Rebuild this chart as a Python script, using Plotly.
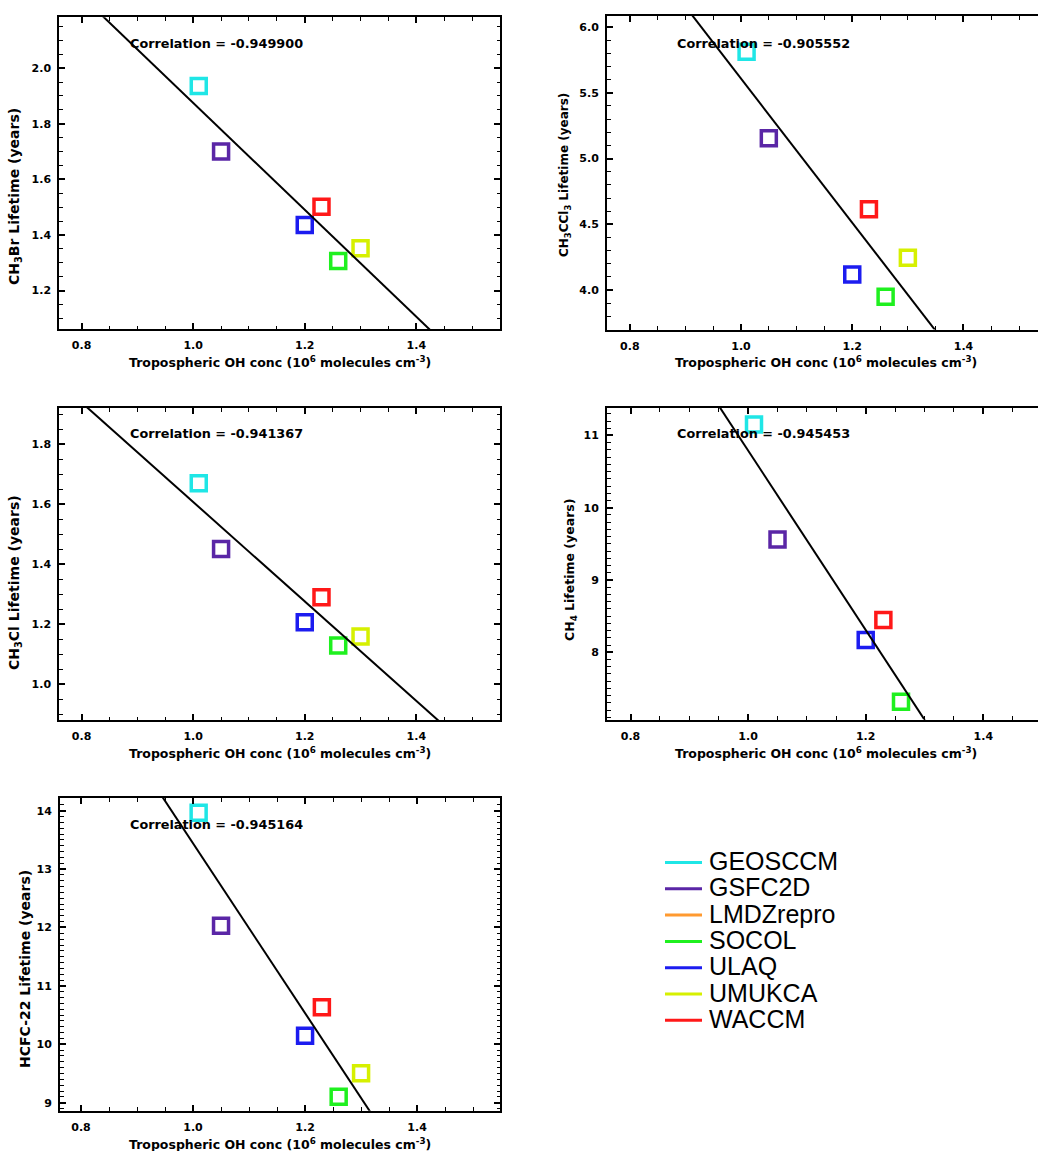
import numpy as np
import plotly.graph_objects as go

# ---------------- data ----------------
models = ["GEOSCCM", "GSFC2D", "LMDZrepro", "SOCOL", "ULAQ", "UMUKCA", "WACCM"]
model_colors = ["#1fe6e6", "#5a26a6", "#ff9a30", "#1ff01f", "#1c1cf0", "#d6f000", "#ff1818"]

# tropospheric OH concentration (10^6 molecules cm^-3); None = not available
oh_conc = [1.01, 1.05, None, 1.26, 1.20, 1.30, 1.23]

# lifetimes (years), same model order
ch3br_lifetime = [1.936, 1.70, None, 1.307, 1.436, 1.352, 1.502]
ch3ccl3_lifetime = [5.812, 5.154, None, 3.949, 4.119, 4.246, 4.614]
ch3cl_lifetime = [1.669, 1.45, None, 1.128, 1.206, 1.158, 1.289]
ch4_lifetime = [11.15, 9.562, None, 7.317, 8.17, None, 8.447]
hcfc22_lifetime = [13.966, 12.03, None, 9.103, 10.147, 9.503, 10.634]

y_titles = [
    "CH<sub>3</sub>Br Lifetime (years)",
    "CH<sub>3</sub>CCl<sub>3</sub> Lifetime (years)",
    "CH<sub>3</sub>Cl Lifetime (years)",
    "CH<sub>4</sub> Lifetime (years)",
    "HCFC-22 Lifetime (years)",
]
correlation_labels = ["-0.949900", "-0.905552", "-0.941367", "-0.945453", "-0.945164"]
x_title = "Tropospheric OH conc (10<sup>6</sup> molecules cm<sup>-3</sup>)"

species_values = [ch3br_lifetime, ch3ccl3_lifetime, ch3cl_lifetime, ch4_lifetime, hcfc22_lifetime]

# ---------------- layout geometry (pixels) ----------------
W, H = 1038, 1151


def px(x):
    return x / W


def py(y):
    return 1 - y / H


# plot boxes: left, right, top, bottom
boxes = [
    (59.3, 500, 17.3, 329),
    (607, 1038, 16, 329.5),
    (59.3, 500, 408, 720),
    (607, 1038, 408, 719.5),
    (60, 500, 798, 1110.7),
]
x_ranges = [[0.76, 1.55], [0.759, 1.534], [0.76, 1.55], [0.760, 1.493], [0.7625, 1.548]]
y_ranges = [[1.062, 2.183], [3.70, 6.084], [0.88, 1.92], [7.07, 11.38], [8.863, 14.217]]
y_dticks = [0.2, 0.5, 0.2, 1, 1]
y_minor = [0.05, 0.1, 0.05, 0.1, 0.1]
y_formats = [".1f", ".1f", ".1f", "d", "d"]
y_title_pos = [(15, 197), (565, 175), (15, 583), (570, 570), (25, 969)]
y_title_sizes = [14, 12, 14, 12.5, 14]
x_title_pos = [(280, 362), (826, 362), (280, 753), (826, 753), (280, 1144)]
corr_pos = [(128, 43), (675, 43), (128, 433), (675, 433), (128, 824)]
right_column = [False, True, False, True, False]

FONT = "DejaVu Sans"

fig = go.Figure()
layout = dict(
    width=W, height=H, autosize=False,
    margin=dict(l=0, r=0, t=0, b=0),
    paper_bgcolor="white", plot_bgcolor="white",
    showlegend=False,
    font=dict(family=FONT, color="black", size=12),
)
annotations = []
shapes = []

for i, vals in enumerate(species_values):
    n = i + 1
    xa = "x" if n == 1 else f"x{n}"
    ya = "y" if n == 1 else f"y{n}"
    xkey = "xaxis" if n == 1 else f"xaxis{n}"
    ykey = "yaxis" if n == 1 else f"yaxis{n}"
    l, r, t, b = boxes[i]

    # model points
    for name, col, xv, yv in zip(models, model_colors, oh_conc, vals):
        if xv is None or yv is None:
            continue
        fig.add_trace(go.Scatter(
            x=[xv], y=[yv], mode="markers", name=name,
            marker=dict(symbol="square-open", size=15, color=col,
                        line=dict(width=3.5, color=col)),
            xaxis=xa, yaxis=ya, cliponaxis=False,
        ))

    # least-squares regression line across the axis range
    pts = [(xv, yv) for xv, yv in zip(oh_conc, vals) if xv is not None and yv is not None]
    xs = np.array([p[0] for p in pts])
    ys = np.array([p[1] for p in pts])
    slope, intercept = np.polyfit(xs, ys, 1)
    xl = np.array(x_ranges[i])
    fig.add_trace(go.Scatter(
        x=xl, y=slope * xl + intercept, mode="lines",
        line=dict(color="black", width=2), xaxis=xa, yaxis=ya,
        hoverinfo="skip",
    ))

    common = dict(
        showline=True, linecolor="black", linewidth=2,
        ticks="inside", ticklen=6, tickwidth=1.5, tickcolor="black",
        showgrid=False, zeroline=False,
        tickfont=dict(family=FONT, size=11, color="black", weight="bold"),
    )
    layout[xkey] = dict(
        common, domain=[px(l), px(r)], range=x_ranges[i],
        anchor=ya, dtick=0.2, tick0=0.8, tickformat=".1f",
        mirror="allticks", ticklabelstandoff=5,
        minor=dict(ticks="inside", ticklen=3.5, dtick=0.05, tick0=0.8,
                   tickcolor="black", tickwidth=1.2),
    )
    layout[ykey] = dict(
        common, domain=[py(b), py(t)], range=y_ranges[i],
        anchor=xa, dtick=y_dticks[i], tickformat=y_formats[i],
        mirror=False if right_column[i] else "allticks",
        ticklabelstandoff=4,
        minor=dict(ticks="inside", ticklen=3.5, dtick=y_minor[i],
                   tickcolor="black", tickwidth=1.2),
    )

    tx, ty = y_title_pos[i]
    annotations.append(dict(
        x=px(tx), y=py(ty), xref="paper", yref="paper", text=y_titles[i],
        textangle=-90, showarrow=False,
        font=dict(family=FONT, size=y_title_sizes[i], weight="bold"),
        xanchor="center", yanchor="middle",
    ))
    tx, ty = x_title_pos[i]
    annotations.append(dict(
        x=px(tx), y=py(ty), xref="paper", yref="paper", text=x_title,
        showarrow=False, font=dict(family=FONT, size=12.5, weight="bold"),
        xanchor="center", yanchor="middle",
    ))
    cx, cy = corr_pos[i]
    annotations.append(dict(
        x=px(cx), y=py(cy), xref="paper", yref="paper",
        text="Correlation = " + correlation_labels[i],
        showarrow=False, font=dict(family=FONT, size=12.8, weight="bold"),
        xanchor="left", yanchor="middle",
    ))

# model key
key_line_x = (665, 702)
key_text_x = 707
key_y0, key_dy = 861, 26.3
for j, (name, col) in enumerate(zip(models, model_colors)):
    yy = key_y0 + j * key_dy
    shapes.append(dict(
        type="line", xref="paper", yref="paper",
        x0=px(key_line_x[0]), x1=px(key_line_x[1]),
        y0=py(yy + 1.5), y1=py(yy + 1.5),
        line=dict(color=col, width=3),
    ))
    annotations.append(dict(
        x=px(key_text_x), y=py(yy), xref="paper", yref="paper", text=name,
        showarrow=False, font=dict(family="Liberation Sans", size=25),
        xanchor="left", yanchor="middle",
    ))

layout["annotations"] = annotations
layout["shapes"] = shapes
fig.update_layout(**layout)

fig.write_html("out.html")
